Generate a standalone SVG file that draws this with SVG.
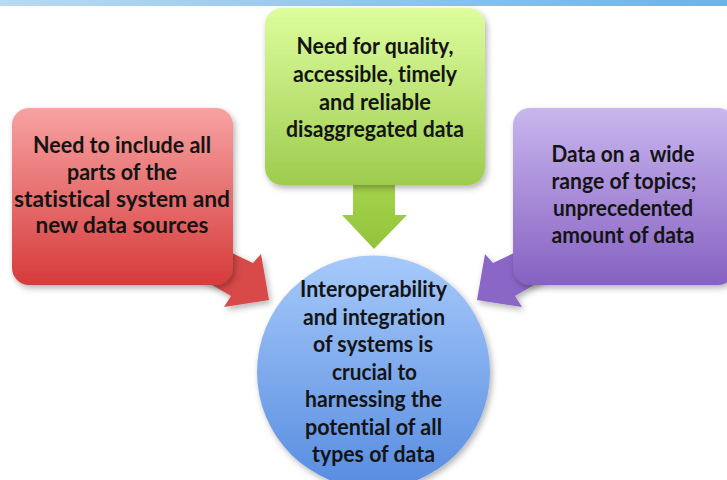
<svg xmlns="http://www.w3.org/2000/svg" width="727" height="480" viewBox="0 0 727 480">
<defs>
<linearGradient id="gBand" x1="0" y1="0" x2="1" y2="0"><stop offset="0" stop-color="#b8daf3"/><stop offset="1" stop-color="#6fb2e4"/></linearGradient>
<linearGradient id="gGreen" x1="0" y1="0" x2="0" y2="1"><stop offset="0" stop-color="#defd9e"/><stop offset="1" stop-color="#9dcc4e"/></linearGradient>
<linearGradient id="gRed" x1="0" y1="0" x2="0" y2="1"><stop offset="0" stop-color="#f7a2a2"/><stop offset="1" stop-color="#d63b3b"/></linearGradient>
<linearGradient id="gPurple" x1="0" y1="0" x2="0" y2="1"><stop offset="0" stop-color="#c9b6ee"/><stop offset="1" stop-color="#8661c2"/></linearGradient>
<linearGradient id="gBlue" x1="0" y1="0" x2="0" y2="1"><stop offset="0" stop-color="#a6c9fa"/><stop offset="1" stop-color="#578ce0"/></linearGradient>
<linearGradient id="gArrowG" x1="0" y1="0" x2="0" y2="1"><stop offset="0" stop-color="#a6d44e"/><stop offset="1" stop-color="#92c43a"/></linearGradient>
<filter id="sh" x="-10%" y="-10%" width="125%" height="130%"><feDropShadow dx="2" dy="3" stdDeviation="3" flood-color="#000" flood-opacity="0.3"/></filter>
</defs>
<style>
text{font-family:Lato,"Liberation Sans",sans-serif;font-weight:bold;font-size:22.5px;fill:#141414;text-anchor:middle;font-variant-ligatures:none}
</style>
<rect x="0" y="0" width="727" height="6" fill="url(#gBand)"/>
<g id="connectors">
<polygon id="arrow-red" points="215,245 253,263 261,254 269,300 224,307 231,296 200,278" fill="#d84848" filter="url(#sh)"/>
<polygon id="arrow-purple" points="531,245 493,263 485,254 477,300 522,307 515,296 546,278" fill="#8a66c6" filter="url(#sh)"/>
<polygon id="arrow-green" points="353,180 395,180 395,215 407,215 374,249 342,215 353,215" fill="url(#gArrowG)"/>
</g>
<g id="node-green">
<rect x="265" y="8" width="220" height="177" rx="17" fill="url(#gGreen)" filter="url(#sh)"/>
<text x="375" y="54" textLength="157" lengthAdjust="spacingAndGlyphs">Need for quality,</text>
<text x="375" y="82" textLength="164" lengthAdjust="spacingAndGlyphs">accessible, timely</text>
<text x="375" y="110" textLength="112" lengthAdjust="spacingAndGlyphs">and reliable</text>
<text x="375" y="137" textLength="178" lengthAdjust="spacingAndGlyphs">disaggregated data</text>
</g>
<g id="node-red">
<rect x="12" y="108" width="221" height="177" rx="17" fill="url(#gRed)" filter="url(#sh)"/>
<text x="122" y="153" textLength="178" lengthAdjust="spacingAndGlyphs">Need to include all</text>
<text x="122" y="180" textLength="110" lengthAdjust="spacingAndGlyphs">parts of the</text>
<text x="122" y="207" textLength="216" lengthAdjust="spacingAndGlyphs">statistical system and</text>
<text x="122" y="233" textLength="173" lengthAdjust="spacingAndGlyphs">new data sources</text>
</g>
<g id="node-purple">
<rect x="513" y="108" width="222" height="177" rx="17" fill="url(#gPurple)" filter="url(#sh)"/>
<text x="623" y="162" textLength="143" lengthAdjust="spacingAndGlyphs" xml:space="preserve">Data on a  wide</text>
<text x="624" y="189" textLength="145" lengthAdjust="spacingAndGlyphs">range of topics;</text>
<text x="623" y="216" textLength="140" lengthAdjust="spacingAndGlyphs">unprecedented</text>
<text x="623" y="243" textLength="143" lengthAdjust="spacingAndGlyphs">amount of data</text>
</g>
<g id="node-center">
<circle cx="373.5" cy="372" r="116.5" fill="url(#gBlue)" filter="url(#sh)"/>
<text x="373.5" y="297" textLength="147" lengthAdjust="spacingAndGlyphs">Interoperability</text>
<text x="374" y="324.5" textLength="142" lengthAdjust="spacingAndGlyphs">and integration</text>
<text x="373" y="352" textLength="120" lengthAdjust="spacingAndGlyphs">of systems is</text>
<text x="374.5" y="379.5" textLength="85" lengthAdjust="spacingAndGlyphs">crucial to</text>
<text x="373.5" y="407" textLength="137" lengthAdjust="spacingAndGlyphs">harnessing the</text>
<text x="373.5" y="434.5" textLength="137" lengthAdjust="spacingAndGlyphs">potential of all</text>
<text x="373.5" y="462" textLength="123" lengthAdjust="spacingAndGlyphs">types of data</text>
</g>
</svg>
